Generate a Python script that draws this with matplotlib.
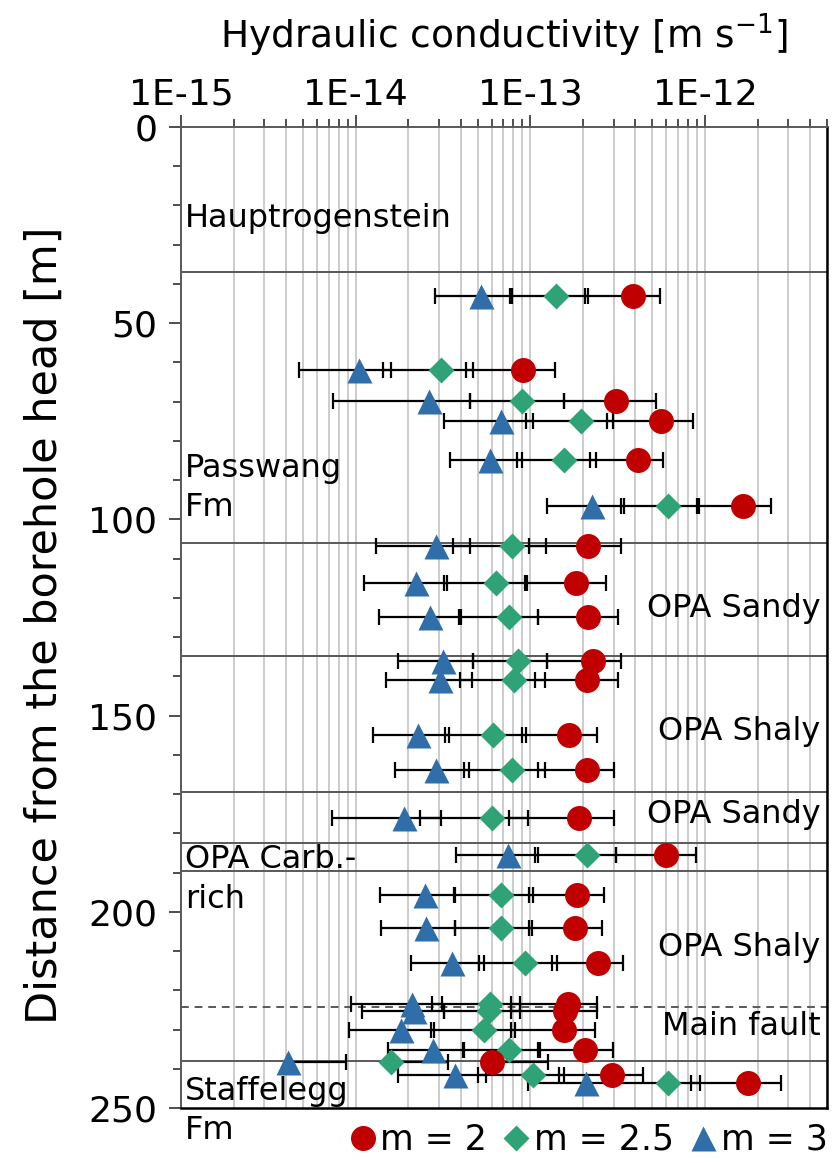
import matplotlib
matplotlib.use("Agg")
import matplotlib.pyplot as plt
import numpy as np
from matplotlib.ticker import FixedLocator, FuncFormatter, NullFormatter, MultipleLocator
from matplotlib.lines import Line2D

plt.rcParams['font.family'] = ['DejaVu Sans']

# depth of each test interval [m]
depth = [43.1, 61.9, 69.8, 74.9, 84.8, 96.7, 106.9, 116.1, 125.0, 136.2, 140.9,
         154.9, 163.8, 176.0, 185.5, 195.7, 204.2, 213.1, 223.4, 225.3, 230.2,
         235.2, 238.3, 241.6, 243.6]

# m = 2 (circles)
k_m2 = [3.85e-13, 9.08e-14, 3.09e-13, 5.60e-13, 4.12e-13, 1.66e-12, 2.13e-13, 1.82e-13,
        2.13e-13, 2.29e-13, 2.11e-13, 1.67e-13, 2.11e-13, 1.90e-13, 5.98e-13, 1.85e-13,
        1.81e-13, 2.43e-13, 1.64e-13, 1.58e-13, 1.55e-13, 2.06e-13, 6.06e-14, 2.92e-13, 1.77e-12]
k_m2_lo = [2.06e-13, 4.28e-14, 1.55e-13, 2.74e-13, 2.20e-13, 9.01e-13, 9.88e-14, 9.29e-14,
           1.11e-13, 1.25e-13, 1.06e-13, 9.01e-14, 1.11e-13, 7.52e-14, 3.09e-13, 9.83e-14,
           9.83e-14, 1.34e-13, 7.72e-14, 7.72e-14, 7.79e-14, 1.11e-13, 6.06e-14, 1.47e-13, 8.37e-13]
k_m2_hi = [5.53e-13, 1.39e-13, 5.24e-13, 8.51e-13, 5.75e-13, 2.39e-12, 3.30e-13, 2.71e-13,
           3.16e-13, 3.30e-13, 3.19e-13, 2.40e-13, 3.00e-13, 3.02e-13, 8.89e-13, 2.65e-13,
           2.59e-13, 3.38e-13, 2.40e-13, 2.40e-13, 2.34e-13, 2.98e-13, 1.27e-13, 4.43e-13, 2.71e-12]

# m = 2.5 (diamonds)
k_m25 = [1.40e-13, 3.07e-14, 8.96e-14, 1.95e-13, 1.55e-13, 6.12e-13, 7.85e-14, 6.39e-14,
         7.55e-14, 8.50e-14, 8.06e-14, 6.14e-14, 7.82e-14, 6.00e-14, 2.10e-13, 6.83e-14,
         6.83e-14, 9.29e-14, 5.85e-14, 5.77e-14, 5.41e-14, 7.58e-14, 1.59e-14, 1.03e-13, 6.14e-13]
k_m25_lo = [7.65e-14, 1.43e-14, 4.49e-14, 9.41e-14, 8.36e-14, 3.30e-13, 3.60e-14, 3.21e-14,
            3.90e-14, 4.72e-14, 3.95e-14, 3.27e-14, 4.17e-14, 2.33e-14, 1.07e-13, 3.64e-14,
            3.73e-14, 5.08e-14, 2.72e-14, 3.21e-14, 2.70e-14, 4.10e-14, 1.59e-14, 5.03e-14, 6.14e-13]
k_m25_hi = [2.13e-13, 4.72e-14, 1.55e-13, 2.97e-13, 2.38e-13, 9.29e-13, 1.23e-13, 9.62e-14,
            1.11e-13, 1.25e-13, 1.21e-13, 9.41e-14, 1.21e-13, 9.66e-14, 3.09e-13, 1.03e-13,
            1.02e-13, 1.43e-13, 8.70e-14, 8.70e-14, 8.15e-14, 1.14e-13, 3.36e-14, 1.57e-13, 9.37e-13]

# m = 3 (triangles)
k_m3 = [5.19e-14, 1.04e-14, 2.62e-14, 6.76e-14, 5.87e-14, 2.27e-13, 2.88e-14, 2.23e-14,
        2.66e-14, 3.17e-14, 3.06e-14, 2.28e-14, 2.90e-14, 1.90e-14, 7.45e-14, 2.49e-14,
        2.52e-14, 3.57e-14, 2.11e-14, 2.17e-14, 1.83e-14, 2.76e-14, 4.08e-15, 3.71e-14, 2.09e-13]
k_m3_lo = [2.84e-14, 4.75e-15, 7.42e-15, 3.20e-14, 3.45e-14, 1.25e-13, 1.31e-14, 1.11e-14,
           1.36e-14, 1.74e-14, 1.50e-14, 1.25e-14, 1.67e-14, 7.32e-15, 3.77e-14, 1.37e-14,
           1.40e-14, 2.08e-14, 9.45e-15, 1.09e-14, 9.18e-15, 1.54e-14, 4.08e-15, 1.75e-14, 9.65e-14]
k_m3_hi = [7.82e-14, 1.59e-14, 4.49e-14, 1.04e-13, 8.96e-14, 3.42e-13, 4.49e-14, 3.35e-14,
           3.99e-14, 4.72e-14, 4.65e-14, 3.42e-14, 4.47e-14, 3.07e-14, 1.11e-13, 3.73e-14,
           3.73e-14, 5.43e-14, 3.12e-14, 3.21e-14, 2.82e-14, 4.20e-14, 8.86e-15, 5.58e-14, 6.14e-13]

# formation boundaries [m]
boundaries = [37.0, 106.0, 134.8, 169.5, 182.5, 189.7, 237.9]
fault_line = 224.2

units_left = [("Hauptrogenstein", 23.2), ("Passwang\nFm", 92.0),
              ("OPA Carb.-\nrich", 191.8), ("Staffelegg\nFm", 250.8)]
units_right = [("OPA Sandy", 122.8), ("OPA Shaly", 154.1), ("OPA Sandy", 175.3),
               ("OPA Shaly", 209.2), ("Main fault", 229.3)]

x_major = [1e-15, 1e-14, 1e-13, 1e-12]
x_minor = [m * x for x in [1e-15, 1e-14, 1e-13, 1e-12] for m in range(2, 10) if m * x <= 5e-12]

fig = plt.figure(figsize=(8.39, 11.63), dpi=100)
ax = fig.add_axes([0.2157, 0.0473, 0.770, 0.8435])

ax.set_xscale('log')
ax.set_xlim(1e-15, 5e-12)
ax.set_ylim(250, 0)

ax.grid(which='both', axis='x', color='#cccccc', lw=1.4, zorder=0)
ax.set_axisbelow(True)

for b in boundaries:
    ax.axhline(b, color='#595959', lw=1.4, zorder=1)
ax.axhline(fault_line, color='#595959', lw=1.4, ls=(0, (4, 3)), zorder=1)

series = [
    (k_m3, k_m3_lo, k_m3_hi, '^', '#2f6ea8', 18, 'm = 3'),
    (k_m25, k_m25_lo, k_m25_hi, 'D', '#2fa276', 13.5, 'm = 2.5'),
    (k_m2, k_m2_lo, k_m2_hi, 'o', '#c00000', 18, 'm = 2'),
]

d = np.array(depth)
for k, lo, hi, mk, col, ms, lab in series:
    k = np.array(k)
    ax.errorbar(k, d, xerr=[k - np.array(lo), np.array(hi) - k], fmt='none',
                ecolor='black', elinewidth=1.6, capsize=6, capthick=1.6, zorder=3)
for k, lo, hi, mk, col, ms, lab in series:
    ax.plot(k, d, ls='none', marker=mk, color=col, ms=ms, mec='none', zorder=4)

# axes styling
ax.xaxis.tick_top()
ax.xaxis.set_major_locator(FixedLocator(x_major))
ax.xaxis.set_minor_locator(FixedLocator(x_minor))
ax.xaxis.set_major_formatter(FuncFormatter(lambda v, p: "1E%d" % round(np.log10(v))))
ax.xaxis.set_minor_formatter(NullFormatter())
ax.tick_params(axis='x', which='major', direction='out', length=9, width=1.3,
               color='#404040', labelsize=26, pad=2)
ax.tick_params(axis='x', which='minor', direction='out', length=6, width=1.3, color='#404040')

ax.yaxis.set_major_locator(MultipleLocator(50))
ax.yaxis.set_minor_locator(MultipleLocator(10))
ax.tick_params(axis='y', which='major', direction='out', length=9, width=1.3,
               color='#404040', labelsize=26, pad=8)
ax.tick_params(axis='y', which='minor', direction='out', length=6, width=1.3, color='#404040')

for side in ['top', 'left']:
    ax.spines[side].set_color('#595959')
    ax.spines[side].set_linewidth(1.4)
for side in ['bottom', 'right']:
    ax.spines[side].set_color('black')
    ax.spines[side].set_linewidth(1.8)

for txt, y in units_left:
    ax.text(0.006, y, txt, transform=ax.get_yaxis_transform(), ha='left', va='center',
            fontsize=23, linespacing=1.35, zorder=5)
for txt, y in units_right:
    ax.text(0.99, y, txt, transform=ax.get_yaxis_transform(), ha='right', va='center',
            fontsize=23, zorder=5)

fig.text(504 / 839, 1 - 35 / 1163, "Hydraulic conductivity [m s$^{-1}$]",
         ha='center', va='center', fontsize=27)
fig.text(45 / 839, 1 - 625 / 1163, "Distance from the borehole head [m]",
         rotation=90, ha='center', va='center', fontsize=31)

handles = [Line2D([], [], ls='none', marker=mk, color=col, ms=ms, mec='none', label=lab)
           for k, lo, hi, mk, col, ms, lab in series[::-1]]
fig.legend(handles=handles, loc='center', bbox_to_anchor=(0.70, 0.02), ncol=3,
           frameon=False, fontsize=25, handletextpad=0.05, columnspacing=0.4,
           handlelength=0.9, borderaxespad=0, borderpad=0)

fig.savefig("out.png", dpi=100)
